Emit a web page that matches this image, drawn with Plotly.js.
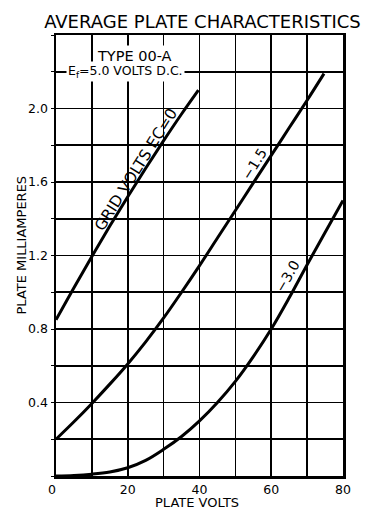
<!DOCTYPE html>
<html>
<head>
<meta charset="utf-8">
<script src="https://cdn.plot.ly/plotly-3.0.1.min.js"></script>
<style>html,body{margin:0;padding:0;background:#fff;}#chart{width:382px;height:516px;}</style>
</head>
<body>
<div id="chart"></div>
<script>
// Plate volts sample points
const voltsEc0 = [0, 5, 10, 15, 20, 25, 30, 35, 39.7];
const maEc0    = [0.85, 1.025, 1.195, 1.36, 1.52, 1.675, 1.825, 1.97, 2.10];

const voltsEc15 = [0, 5, 10, 15, 20, 25, 30, 35, 40, 45, 50, 55, 60, 65, 70, 74.7];
const maEc15    = [0.20, 0.295, 0.395, 0.50, 0.61, 0.73, 0.86, 1.00, 1.145, 1.295, 1.445, 1.595, 1.745, 1.895, 2.045, 2.19];

const voltsEc30 = [0, 5, 10, 15, 20, 25, 30, 35, 40, 45, 50, 55, 60, 65, 70, 75, 80];
const maEc30    = [0.00, 0.003, 0.010, 0.022, 0.045, 0.085, 0.145, 0.215, 0.30, 0.40, 0.515, 0.65, 0.80, 0.97, 1.15, 1.325, 1.50];

const xTickVals = [0, 20, 40, 60, 80];
const xTickText = ['0\u00a0\u00a0', '20', '40', '60', '80'];
const yTickVals = [0.4, 0.8, 1.2, 1.6, 2.0];
const yTickText = ['0.4', '0.8', '1.2', '1.6', '2.0'];

const FONT = 'DejaVu Sans, Arial, sans-serif';
const lineStyle = {color: '#000', width: 3, shape: 'spline', smoothing: 1};

const traces = [
  {x: voltsEc0, y: maEc0, mode: 'lines', line: lineStyle, hoverinfo: 'skip'},
  {x: voltsEc15, y: maEc15, mode: 'lines', line: lineStyle, hoverinfo: 'skip'},
  {x: voltsEc30, y: maEc30, mode: 'lines', line: lineStyle, hoverinfo: 'skip'}
];

const layout = {
  width: 382, height: 516,
  margin: {l: 56, r: 39, t: 35, b: 40},
  paper_bgcolor: '#fff', plot_bgcolor: '#fff',
  showlegend: false,
  font: {family: FONT, color: '#000'},
  title: {text: 'AVERAGE PLATE CHARACTERISTICS', font: {family: FONT, size: 18, color: '#000'},
          x: 0.53, xanchor: 'center', y: 0.957, yanchor: 'middle', yref: 'container'},
  xaxis: {
    range: [0, 80], tickvals: xTickVals, ticktext: xTickText,
    showgrid: true, gridcolor: '#000', gridwidth: 1.7,
    minor: {dtick: 10, showgrid: true, gridcolor: '#000', gridwidth: 1.7},
    showline: true, mirror: true, linecolor: '#000', linewidth: 2.5,
    ticks: '', zeroline: false,
    tickfont: {family: FONT, size: 12.5, color: '#000'}
  },
  yaxis: {
    range: [0, 2.4], tickvals: yTickVals, ticktext: yTickText,
    showgrid: true, gridcolor: '#000', gridwidth: 1.7,
    minor: {dtick: 0.2, showgrid: true, gridcolor: '#000', gridwidth: 1.7, ticks: 'outside', ticklen: 3, tickcolor: '#000'},
    showline: true, mirror: true, linecolor: '#000', linewidth: 2.5,
    ticks: 'outside', ticklen: 3, tickcolor: '#000', zeroline: false,
    tickfont: {family: FONT, size: 12.5, color: '#000'}
  },
  annotations: [
    {text: 'PLATE VOLTS', xref: 'paper', yref: 'paper', x: 0.49, y: -0.06, yanchor: 'middle', showarrow: false,
     font: {family: FONT, size: 13, color: '#000'}},
    {text: 'PLATE MILLIAMPERES', xref: 'paper', yref: 'paper', x: -0.12, xanchor: 'center', y: 0.524, showarrow: false, textangle: -90,
     font: {family: FONT, size: 13, color: '#000'}},
    {text: 'TYPE 00-A', xref: 'x', yref: 'y', x: 22.0, y: 2.285, showarrow: false,
     font: {family: FONT, size: 14.5, color: '#000'}, bgcolor: '#fff', borderpad: 2},
    {text: 'E<sub>f</sub>=5.0 VOLTS D.C.', xref: 'x', yref: 'y', x: 19.4, y: 2.20, showarrow: false,
     font: {family: FONT, size: 12.5, color: '#000'}, bgcolor: '#fff', borderpad: 1},
    {text: 'GRID VOLTS EC=0', xref: 'x', yref: 'y', x: 22.3, y: 1.665, showarrow: false, textangle: -58,
     font: {family: FONT, size: 15.5, color: '#000'}},
    {text: '\u22121.5', xref: 'x', yref: 'y', x: 55.2, y: 1.70, showarrow: false, textangle: -58,
     font: {family: FONT, size: 14, color: '#000'}},
    {text: '\u22123.0', xref: 'x', yref: 'y', x: 64.5, y: 1.09, showarrow: false, textangle: -60,
     font: {family: FONT, size: 14, color: '#000'}}
  ]
};

Plotly.newPlot('chart', traces, layout, {displayModeBar: false, staticPlot: true});
</script>
</body>
</html>
